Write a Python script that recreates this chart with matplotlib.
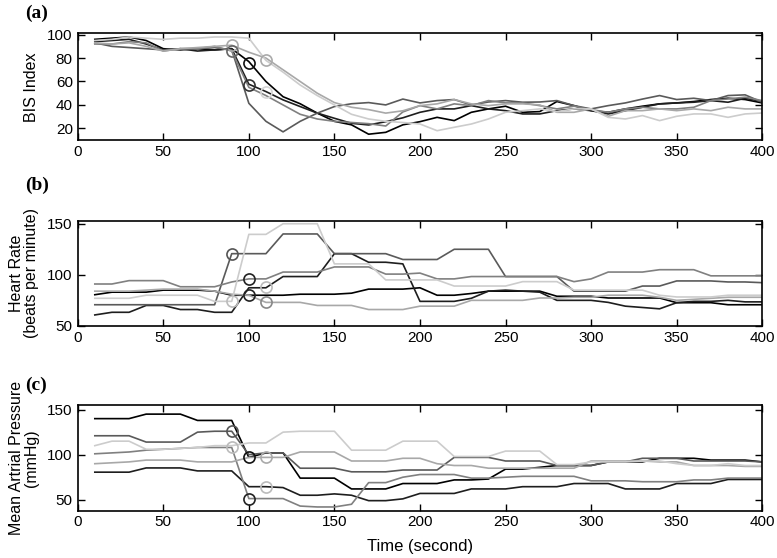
import matplotlib
matplotlib.use("Agg")
import matplotlib.pyplot as plt

# tiempo (s)
time = list(range(10, 410, 10))

# (a) BIS index, seis sujetos
bis_1 = [96, 97, 98, 95, 88, 87, 88, 87, 88, 77, 60, 47, 41, 33, 26, 23, 15, 16.6, 23,
         25.7, 29.4, 26.6, 33.7, 36.6, 38.9, 33.7, 34.3, 42.9, 39.4, 35.1, 33.7, 36.6, 38.9, 40.9, 41.7, 42.9, 44.6, 45.7, 44.6, 41.7]
bis_2 = [94, 95, 96, 92, 87, 88, 86, 87, 88, 57.7, 51.4, 44.3, 38.6, 33, 28.6, 24.3, 22.9, 25.7, 29,
         33.7, 36.6, 36.6, 39.4, 36.6, 35.1, 32.3, 32.3, 35.1, 36.6, 35.1, 32.3, 35.1, 38, 40.9, 41.7, 42.3, 43.7, 42.3, 45.7, 42.9]
bis_3 = [93, 90, 89, 88, 87, 88, 88, 89, 87, 41.4, 26, 17, 26, 33, 38.6, 41, 42, 40, 45,
         41.7, 43.7, 44.6, 40, 42.5, 43.7, 42.3, 42.5, 43.7, 39.4, 36.6, 39.4, 41.7, 45, 48, 44.6, 45.7, 43.7, 48, 48.6, 42.3]
bis_4 = [92, 92, 94, 93, 86, 88, 88, 90, 86, 55, 48, 40, 32, 28, 26, 25, 24, 22, 34,
         39.4, 36.6, 40.9, 39.4, 43.7, 41.7, 41.7, 39.4, 36.6, 38.9, 36, 33.7, 36.6, 38, 36.6, 36.6, 38, 43.7, 45.1, 46.6, 43.7]
bis_5 = [93, 92, 93, 90, 86, 88, 89, 90, 91, 85, 80, 70, 60, 50, 42, 38, 36, 33, 35,
         39.4, 40.9, 44.6, 40.9, 39.4, 40.9, 40.9, 40, 33.7, 33.7, 36.6, 30.3, 35.1, 35.1, 36.6, 35.1, 36.6, 35.1, 38, 36.6, 36.6]
bis_6 = [95, 96, 98, 97, 96, 97, 97, 98, 98, 97, 78, 68, 57, 48, 40, 32, 28, 26, 25,
         23.7, 18, 20.9, 23.7, 28, 33.7, 35.1, 36.6, 34.3, 36.6, 36.6, 29.4, 28, 30.9, 26.6, 30.3, 32.3, 32.3, 29.4, 32.3, 33.1]

# (b) frecuencia cardiaca
hr_1 = [80.5, 83, 83, 83, 85, 85, 85, 84, 80, 80, 80, 80, 81, 81, 81, 82, 86, 86, 86,
        87.3, 80, 80, 81.7, 84, 84, 84, 84, 79, 79, 79, 77.3, 77.3, 77.3, 77.3, 72.7, 72.7, 72.7, 70.7, 70.7, 70.7]
hr_2 = [60.7, 63.3, 63.3, 70, 70, 66, 66, 63.3, 63.3, 87.3, 87.3, 98.3, 98.3, 98.3, 120.7, 120.7, 112.3, 112.3, 110.7,
        74, 74, 74, 77, 84, 85, 84, 83, 75, 75, 75, 73, 69.3, 68, 66.7, 72.7, 74, 74, 75, 73.5, 73.5]
hr_3 = [70.7, 70.7, 70.7, 70.7, 70.7, 70.7, 70.7, 70.7, 120.7, 120.7, 120.7, 140, 140, 140, 120.7, 120.7, 120.7, 120.7, 115,
        115, 115, 125, 125, 125, 98.3, 98.3, 98.3, 98.3, 84, 84, 84, 84, 89, 89, 94, 94, 94, 93, 93, 92.3]
hr_4 = [91, 91, 94.3, 94.3, 94.3, 88.3, 88.3, 88.3, 93, 96, 96, 102.7, 102.7, 102.7, 107.7, 107.7, 107.7, 100.7, 100.7,
        101.7, 96, 96, 98.3, 98.3, 98.3, 98.3, 98.3, 98.3, 93.3, 96, 102.7, 102.7, 102.7, 105, 105, 105, 99, 99, 99, 99]
hr_5 = [84, 84, 84, 85, 86, 86, 86, 84, 81, 80, 73, 73, 73, 70, 70, 70, 66, 66, 66,
        69.3, 69.3, 69.3, 75, 75, 75, 75, 77.3, 77.3, 78, 78, 80, 80, 80, 78, 75, 76, 77, 78, 78, 78]
hr_6 = [77, 77, 77, 80, 80, 80, 80, 74, 74, 139.6, 139.6, 150, 150, 150, 110.7, 110.7, 110.7, 95, 95,
        95, 95, 89, 89, 89, 89, 93.3, 93.3, 93.3, 85, 85, 85, 85, 85, 80, 78.3, 78.3, 78.3, 80, 80, 80]

# (c) presion arterial media
map_1 = [140, 140, 140, 145, 145, 145, 138, 138, 138, 97, 102, 102, 74, 74, 74, 62, 62, 62, 68,
         68, 68, 72, 72, 73, 84, 84, 86, 88, 88, 88, 92, 92, 92, 96, 96, 96, 94, 94, 94, 92]
map_2 = [80.6, 80.6, 80.6, 85.3, 85.3, 85.3, 82, 82, 82, 64.5, 64.5, 63.5, 55, 55, 56.5, 55, 49, 49, 51,
         57, 57, 57, 62, 62, 62, 64.5, 64.5, 64.5, 68, 68, 68, 62, 62, 62, 68, 68, 68, 72.5, 72.5, 72.5]
map_3 = [121, 121, 121, 114, 114, 114, 125, 126, 126, 100, 102, 102, 85, 85, 85, 81, 81, 81, 83,
         83, 83, 97, 97, 97, 93, 93, 93, 88, 88, 88, 92, 92, 96, 96, 96, 93, 93, 93, 93, 92]
map_4 = [101, 102, 103, 105, 106, 107, 108, 108, 108, 51.3, 51.3, 51.3, 43, 42, 42, 45, 69, 69, 75,
         78, 78, 78, 74, 74, 75, 76, 76, 76, 76, 71, 71, 71, 70, 70, 70, 72, 72, 74, 74, 74]
map_5 = [90, 91, 92, 94, 94, 94, 92, 92, 92, 97, 97, 97, 103, 103, 103, 93, 93, 93, 96,
         96, 90, 88, 88, 85, 85, 85, 85, 85, 85, 93, 93, 93, 93, 92, 92, 88, 88, 88, 87, 87]
map_6 = [110, 115, 115, 106, 106, 107, 108, 110, 110, 113, 113, 125, 126, 126, 126, 105, 105, 105, 115,
         115, 115, 98, 98, 98, 104, 104, 104, 89, 89, 92, 92, 92, 93, 93, 90, 88, 88, 90, 88, 88]

# circulos (tiempo, valor, color)
bis_marks_t = [90, 90, 100, 100, 110, 110]
bis_marks_v = [91, 86, 76, 57, 78, 51]
bis_marks_c = ["#aaaaaa", "#666666", "#111111", "#333333", "#aaaaaa", "#d5d5d5"]
hr_marks_t = [90, 90, 100, 100, 110, 110]
hr_marks_v = [120, 74, 96, 80, 88, 73]
hr_marks_c = ["#555555", "#bbbbbb", "#222222", "#222222", "#bbbbbb", "#888888"]
map_marks_t = [90, 90, 100, 100, 110, 110]
map_marks_v = [126, 108, 97, 51, 97, 64]
map_marks_c = ["#555555", "#bbbbbb", "#111111", "#222222", "#aaaaaa", "#bbbbbb"]

colores = ["#000000", "#1e1e1e", "#5a5a5a", "#808080", "#a8a8a8", "#cccccc"]

plt.rcParams["font.family"] = ["Liberation Sans", "DejaVu Sans"]

fig = plt.figure(figsize=(7.77, 5.58), dpi=100)

paneles = [
    ([bis_1, bis_2, bis_3, bis_4, bis_5, bis_6], bis_marks_t, bis_marks_v, bis_marks_c,
     "BIS Index", (10, 101), [20, 40, 60, 80, 100], "(a)", [0.1, 0.749, 0.881, 0.191], 0.976),
    ([hr_1, hr_2, hr_3, hr_4, hr_5, hr_6], hr_marks_t, hr_marks_v, hr_marks_c,
     "Heart Rate\n(beats per minute)", (50, 153), [50, 100, 150], "(b)", [0.1, 0.416, 0.881, 0.1885], 0.667),
    ([map_1, map_2, map_3, map_4, map_5, map_6], map_marks_t, map_marks_v, map_marks_c,
     "Mean Artrial Pressure\n(mmHg)", (38, 155), [50, 100, 150], "(c)", [0.1, 0.085, 0.881, 0.189], 0.31),
]

for series, mt, mv, mc, ylab, ylim, yticks, letra, pos, ly in paneles:
    ax = fig.add_axes(pos)
    for s, c in zip(series, colores):
        ax.plot(time, s, color=c, lw=1.2)
    for t, v, c in zip(mt, mv, mc):
        ax.plot(t, v, "o", ms=8, mfc="none", mec=c, mew=1.2)
    ax.set_xlim(0, 400)
    ax.set_ylim(*ylim)
    ax.set_xticks(range(0, 401, 50))
    ax.set_yticks(yticks)
    ax.tick_params(direction="in", length=5, width=1, top=True, right=True, labelsize=11)
    for sp in ax.spines.values():
        sp.set_linewidth(1.2)
    ax.set_ylabel(ylab, fontsize=11.5, linespacing=1.0)
    ax.yaxis.set_label_coords(-0.057, 0.5)
    fig.text(0.032, ly, letra, fontsize=14, fontweight="bold",
             family="Liberation Serif", va="center")

ax.set_xlabel("Time (second)", fontsize=12, labelpad=7)

fig.savefig("out.png", dpi=100)
